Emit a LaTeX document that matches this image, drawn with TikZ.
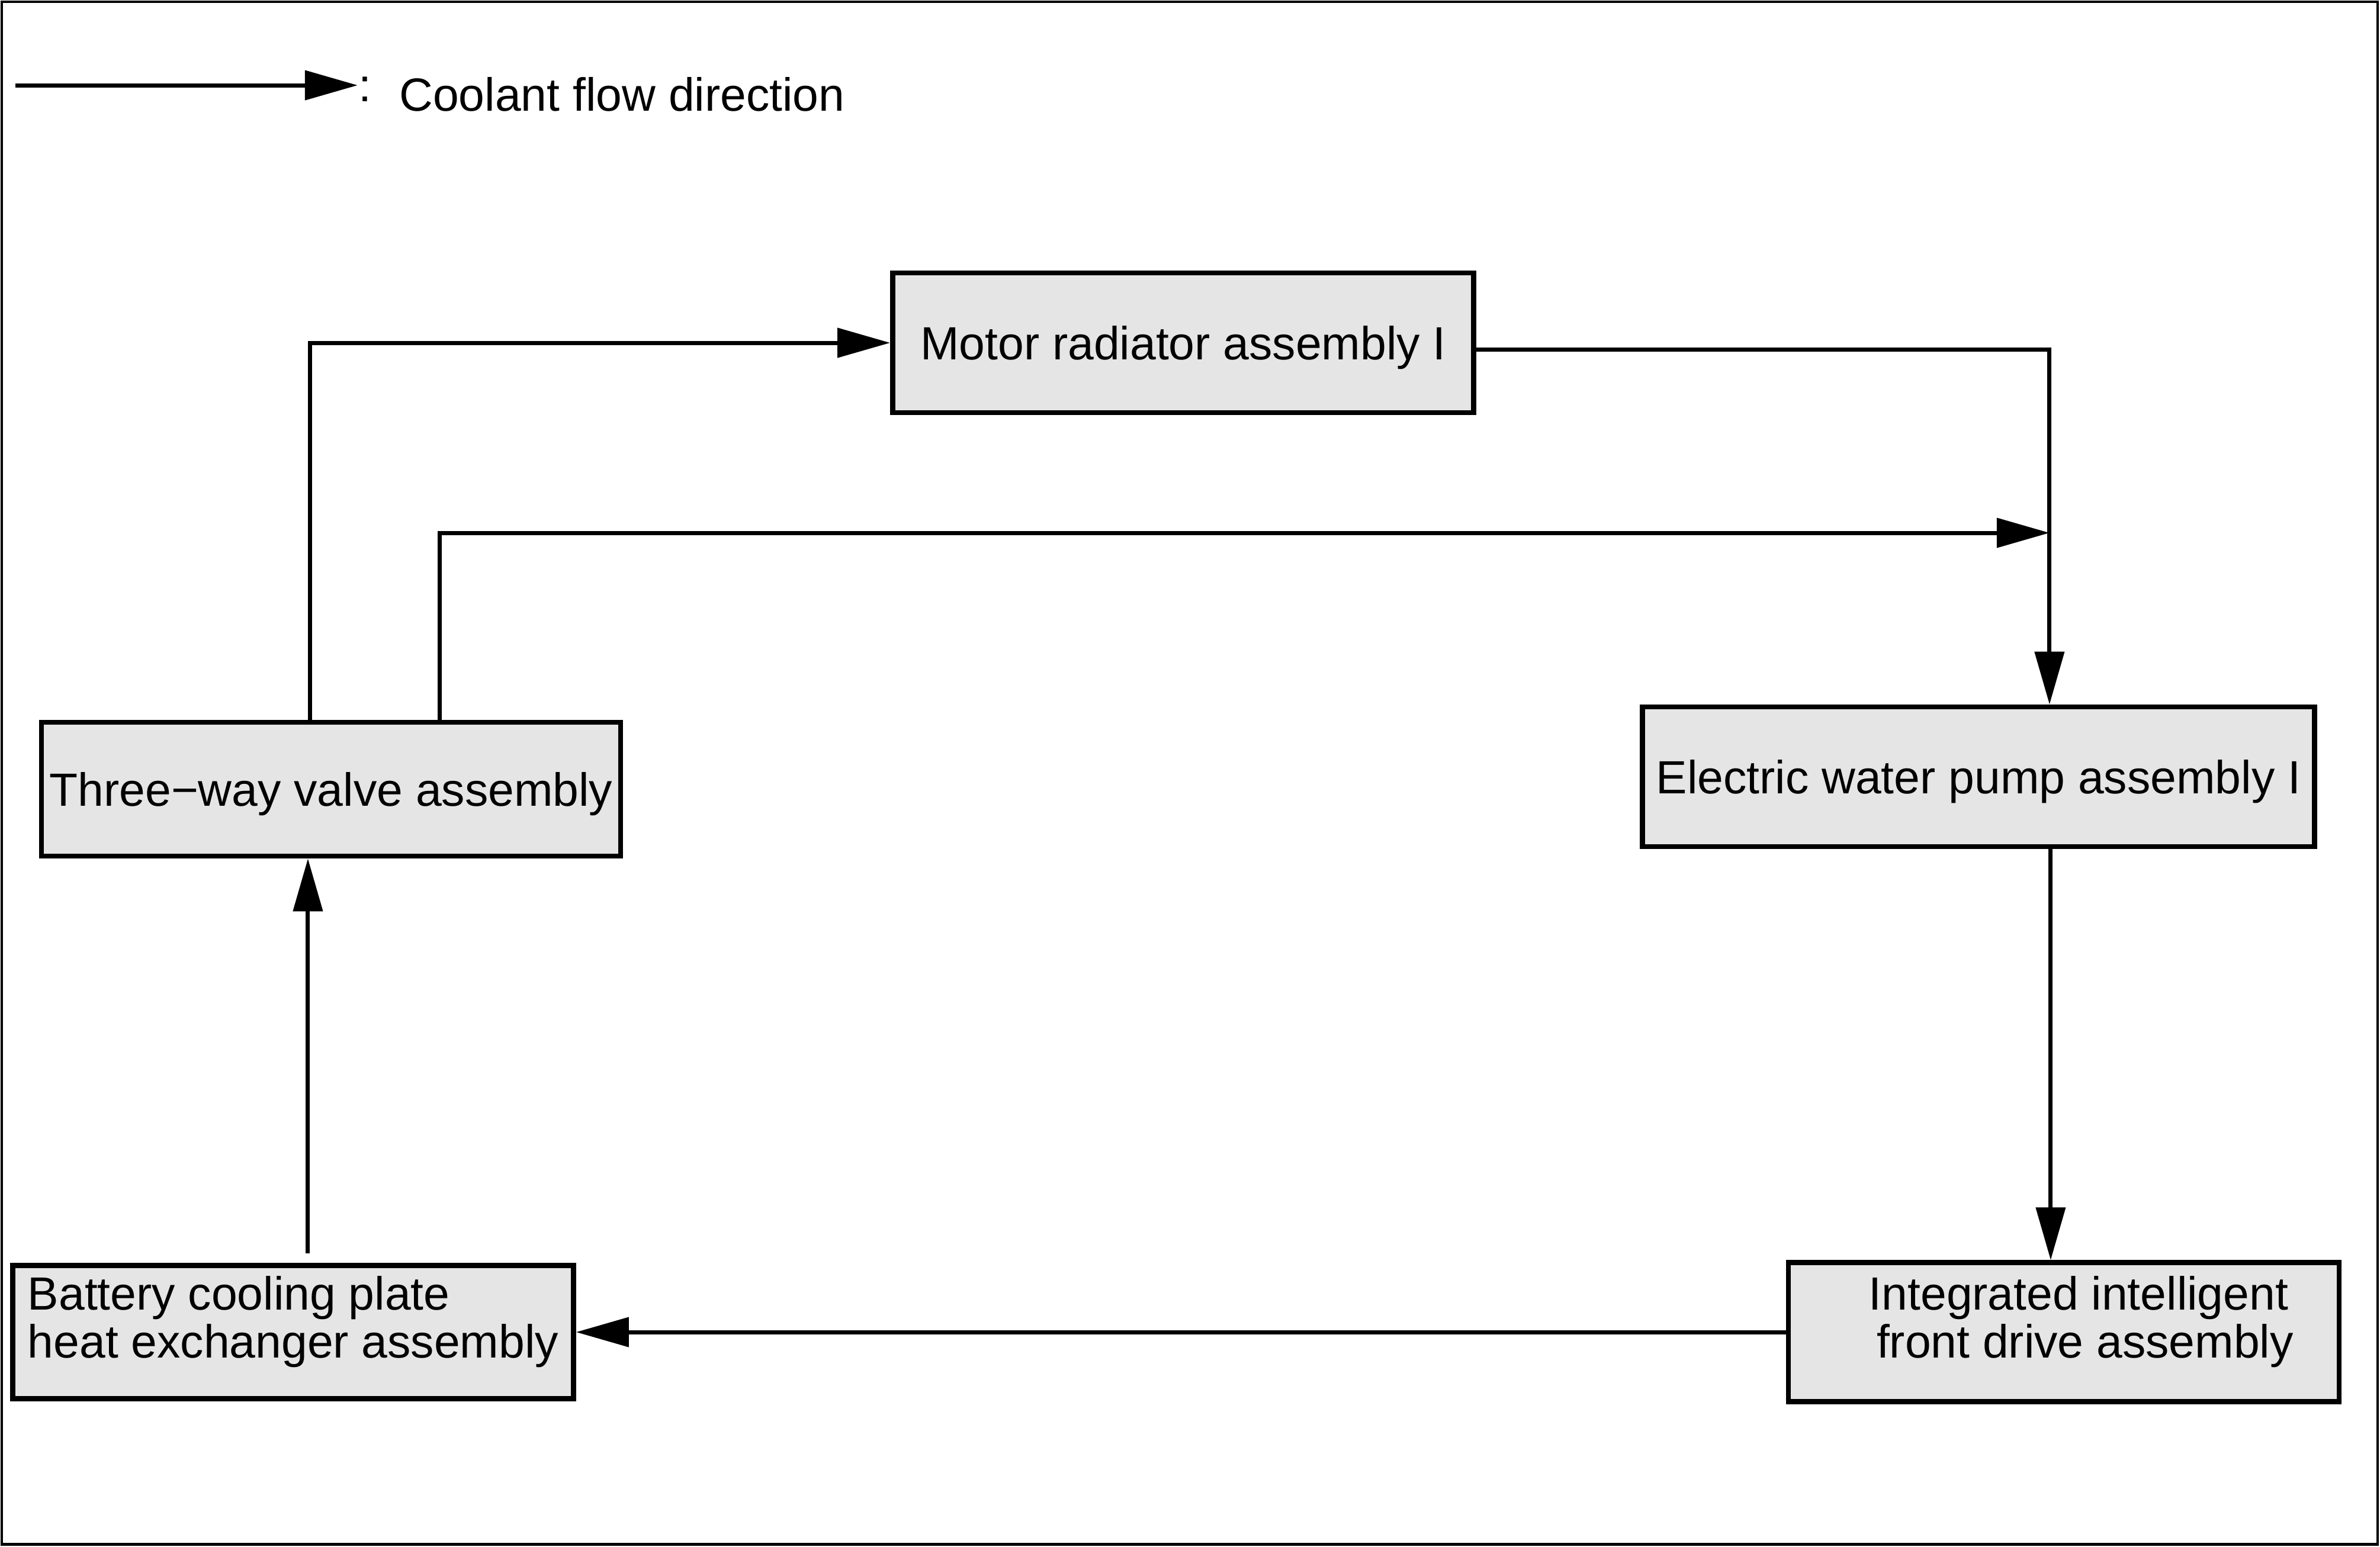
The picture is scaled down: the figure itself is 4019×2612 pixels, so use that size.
\documentclass[tikz,border=0pt]{standalone}
\usepackage{fontspec}
\setmainfont{Liberation Sans}
\usetikzlibrary{arrows.meta}

\begin{document}
\begin{tikzpicture}[x=0.005cm, y=-0.005cm, >={Triangle[length=12.7pt,width=7pt]},
		font=\fontsize{11.2pt}{11.6pt}\selectfont,
		unit/.style={draw, line width=1.2pt, fill=gray!20, inner sep=0pt, align=center, text depth=0pt},
		twoline/.style={text depth=7.2pt},
		flow/.style={->, line width=1pt}]
	\useasboundingbox (0,0) rectangle (4019,2612);
	\draw[line width=0.7pt] (3,3) rectangle (4015,2608);
	% legend
	\coordinate (lgstart) at (26,144);
	\node[anchor=base west, inner sep=0pt] (legend) at (604,187) {\raisebox{0.2em}{:}\hspace{0.6em}Coolant flow direction};
	\draw[flow] (lgstart) -- (lgstart -| legend.west);
	% units
	\node[unit, minimum width=4.91cm, minimum height=1.18cm] (motor) at (1998,579) {Motor radiator assembly I};
	\node[unit, minimum width=4.895cm, minimum height=1.13cm] (valve) at (559,1333) {Three−way valve assembly};
	\node[unit, minimum width=5.68cm, minimum height=1.18cm] (pump) at (3341,1312) {Electric water pump assembly I};
	\node[unit, twoline, minimum width=4.74cm, minimum height=1.125cm, align=left] (battery) at (495,2250) {Battery cooling plate\\heat exchanger assembly};
	\node[unit, twoline, minimum width=4.655cm, minimum height=1.175cm] (front) at (3485,2250) {\hspace*{0.25cm}Integrated intelligent\\\hspace*{0.25cm} front drive assembly};
	\coordinate (tee) at (3461,900);
	% coolant loop
	\draw[flow] ([xshift=-0.18cm]valve.north) |- (motor.west);
	\draw[flow] ([yshift=-0.055cm]motor.east) -| ([xshift=0.6cm]pump.north);
	\draw[flow] ([xshift=0.92cm]valve.north) |- (tee);
	\draw[flow] ([xshift=0.61cm]pump.south) -- ([xshift=0.61cm]pump.south |- front.north);
	\draw[flow] (front.west) -- (battery.east);
	\draw[flow] ([xshift=0.125cm,yshift=0.08cm]battery.north) -- ([xshift=0.125cm]battery.north |- valve.south);
\end{tikzpicture}
\end{document}
